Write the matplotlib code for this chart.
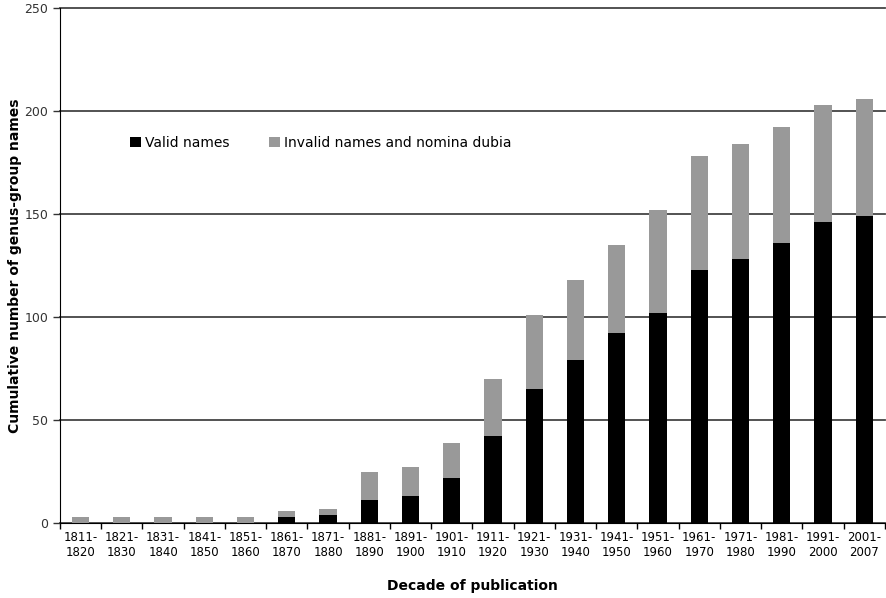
import numpy as np
import matplotlib
matplotlib.use("Agg")
import matplotlib.pyplot as plt
from matplotlib.patches import Patch

# decades of publication
starts = [1811, 1821, 1831, 1841, 1851, 1861, 1871, 1881, 1891, 1901,
          1911, 1921, 1931, 1941, 1951, 1961, 1971, 1981, 1991, 2001]
ends = [1820, 1830, 1840, 1850, 1860, 1870, 1880, 1890, 1900, 1910,
        1920, 1930, 1940, 1950, 1960, 1970, 1980, 1990, 2000, 2007]

# cumulative counts
valid = [0, 0, 0, 0, 0, 3, 4, 11, 13, 22,
         42, 65, 79, 92, 102, 123, 128, 136, 146, 149]
total = [3, 3, 3, 3, 3, 6, 7, 25, 27, 39,
         70, 101, 118, 135, 152, 178, 184, 192, 203, 206]
invalid = [t - v for t, v in zip(total, valid)]

labels = [f"{s}-\n{e}" for s, e in zip(starts, ends)]

plt.rcParams['font.family'] = ['DejaVu Sans']

fig = plt.figure(figsize=(8.87, 5.98), dpi=100)
ax = fig.add_axes([0.0676, 0.1254, 0.930, 0.8612])

x = np.arange(len(labels))
ax.bar(x, valid, width=0.42, color='black', zorder=3)
ax.bar(x, invalid, width=0.42, bottom=valid, color='#999999', zorder=3)

ax.set_xlim(-0.5, len(labels) - 0.5)
ax.set_ylim(0, 250)
ax.set_yticks(np.arange(0, 251, 50))
ax.yaxis.grid(True, color='#444444', linewidth=1.3, zorder=0)
for gl in ax.get_ygridlines():
    gl.set_clip_on(False)  # keep the 250 line at full width

# labels centered, tick marks at category boundaries
ax.set_xticks(x)
ax.set_xticklabels(labels, fontsize=8.5, linespacing=1.2)
ax.set_xticks(np.arange(-0.5, len(labels), 1), minor=True)
ax.tick_params(axis='x', which='major', length=0, pad=6)
ax.tick_params(axis='x', which='minor', length=4, width=1, color='black')
ax.tick_params(axis='y', labelsize=9, length=5, width=1, colors='#333333')

for side in ['top', 'right']:
    ax.spines[side].set_visible(False)
ax.spines['left'].set_color('black')
ax.spines['bottom'].set_color('black')

ax.set_xlabel('Decade of publication', fontsize=10, fontweight='bold', labelpad=14)
ax.set_ylabel('Cumulative number of genus-group names', fontsize=10, fontweight='bold', labelpad=2)

handles = [Patch(facecolor='black', label='Valid names'),
           Patch(facecolor='#999999', label='Invalid names and nomina dubia')]
ax.legend(handles=handles, ncol=2, frameon=False, fontsize=10,
          loc='center left', bbox_to_anchor=(0.07, 0.738),
          handlelength=0.8, handleheight=0.8, handletextpad=0.3, columnspacing=2.8)

fig.savefig('out.png', dpi=100)
